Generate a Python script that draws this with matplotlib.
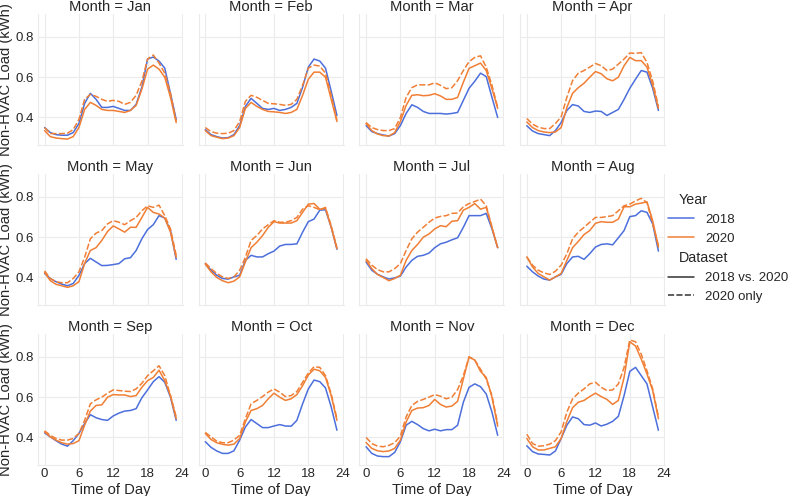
import numpy as np
import pandas as pd
import matplotlib
matplotlib.use("Agg")
import matplotlib.pyplot as plt
from matplotlib.offsetbox import HPacker, DrawingArea, TextArea
import seaborn as sns

months = ["Jan", "Feb", "Mar", "Apr", "May", "Jun",
          "Jul", "Aug", "Sep", "Oct", "Nov", "Dec"]
hours = list(range(24))
xticks = [0, 6, 12, 18, 24]
yticks = [0.4, 0.6, 0.8]

# 2018 (2018 vs. 2020 dataset)
load_2018 = {
    "Jan": [0.35, 0.325, 0.315, 0.312, 0.312, 0.325, 0.37, 0.47, 0.52, 0.49, 0.45, 0.45, 0.455, 0.445, 0.435, 0.435, 0.465, 0.55, 0.69, 0.70, 0.68, 0.645, 0.52, 0.39],
    "Feb": [0.34, 0.315, 0.305, 0.298, 0.30, 0.315, 0.36, 0.455, 0.495, 0.47, 0.445, 0.44, 0.445, 0.435, 0.44, 0.45, 0.47, 0.55, 0.65, 0.69, 0.68, 0.645, 0.53, 0.41],
    "Mar": [0.36, 0.33, 0.32, 0.313, 0.308, 0.32, 0.36, 0.42, 0.463, 0.45, 0.43, 0.42, 0.42, 0.42, 0.417, 0.42, 0.425, 0.485, 0.545, 0.58, 0.62, 0.603, 0.50, 0.40],
    "Apr": [0.359, 0.333, 0.32, 0.315, 0.31, 0.335, 0.375, 0.435, 0.464, 0.457, 0.43, 0.425, 0.432, 0.43, 0.41, 0.425, 0.44, 0.49, 0.545, 0.59, 0.633, 0.625, 0.545, 0.435],
    "May": [0.42, 0.395, 0.379, 0.367, 0.359, 0.37, 0.41, 0.469, 0.495, 0.477, 0.459, 0.46, 0.464, 0.469, 0.493, 0.498, 0.534, 0.592, 0.638, 0.662, 0.707, 0.695, 0.633, 0.49],
    "Jun": [0.469, 0.436, 0.411, 0.395, 0.392, 0.403, 0.411, 0.485, 0.51, 0.502, 0.502, 0.518, 0.531, 0.556, 0.564, 0.564, 0.567, 0.625, 0.677, 0.69, 0.734, 0.736, 0.649, 0.54],
    "Jul": [0.477, 0.436, 0.416, 0.403, 0.392, 0.398, 0.407, 0.452, 0.485, 0.505, 0.51, 0.521, 0.548, 0.567, 0.575, 0.587, 0.597, 0.649, 0.707, 0.707, 0.707, 0.718, 0.641, 0.548],
    "Aug": [0.456, 0.428, 0.407, 0.392, 0.387, 0.403, 0.416, 0.469, 0.502, 0.505, 0.49, 0.518, 0.551, 0.564, 0.567, 0.562, 0.597, 0.633, 0.702, 0.707, 0.731, 0.723, 0.666, 0.531],
    "Sep": [0.423, 0.403, 0.384, 0.367, 0.357, 0.384, 0.42, 0.469, 0.513, 0.498, 0.489, 0.485, 0.507, 0.521, 0.531, 0.534, 0.543, 0.597, 0.636, 0.677, 0.702, 0.674, 0.60, 0.485],
    "Oct": [0.379, 0.351, 0.333, 0.321, 0.321, 0.334, 0.387, 0.452, 0.489, 0.469, 0.449, 0.449, 0.457, 0.464, 0.457, 0.456, 0.485, 0.567, 0.641, 0.685, 0.677, 0.646, 0.551, 0.436],
    "Nov": [0.354, 0.321, 0.308, 0.305, 0.305, 0.326, 0.379, 0.461, 0.48, 0.464, 0.444, 0.433, 0.441, 0.433, 0.439, 0.439, 0.461, 0.575, 0.649, 0.666, 0.652, 0.616, 0.526, 0.411],
    "Dec": [0.359, 0.33, 0.318, 0.316, 0.313, 0.333, 0.395, 0.461, 0.502, 0.493, 0.464, 0.461, 0.472, 0.457, 0.466, 0.48, 0.505, 0.608, 0.728, 0.748, 0.707, 0.666, 0.551, 0.436],
}

# 2020 (2018 vs. 2020 dataset)
load_2020_pair = {
    "Jan": [0.335, 0.305, 0.298, 0.295, 0.293, 0.305, 0.35, 0.44, 0.475, 0.46, 0.44, 0.435, 0.435, 0.43, 0.425, 0.435, 0.46, 0.54, 0.64, 0.66, 0.64, 0.60, 0.50, 0.375],
    "Feb": [0.335, 0.31, 0.302, 0.295, 0.298, 0.31, 0.35, 0.445, 0.475, 0.455, 0.44, 0.43, 0.428, 0.425, 0.42, 0.425, 0.44, 0.51, 0.59, 0.625, 0.625, 0.60, 0.49, 0.38],
    "Mar": [0.37, 0.335, 0.318, 0.31, 0.308, 0.325, 0.38, 0.46, 0.51, 0.513, 0.508, 0.51, 0.518, 0.507, 0.49, 0.49, 0.50, 0.575, 0.644, 0.657, 0.67, 0.633, 0.543, 0.445],
    "Apr": [0.378, 0.35, 0.335, 0.328, 0.325, 0.328, 0.35, 0.45, 0.52, 0.548, 0.57, 0.60, 0.628, 0.617, 0.592, 0.582, 0.60, 0.657, 0.698, 0.682, 0.682, 0.65, 0.56, 0.445],
    "May": [0.425, 0.384, 0.366, 0.359, 0.351, 0.359, 0.379, 0.469, 0.534, 0.548, 0.584, 0.628, 0.656, 0.641, 0.625, 0.649, 0.649, 0.698, 0.748, 0.723, 0.715, 0.695, 0.625, 0.50],
    "Jun": [0.466, 0.428, 0.40, 0.384, 0.374, 0.382, 0.403, 0.477, 0.548, 0.575, 0.608, 0.649, 0.677, 0.67, 0.67, 0.67, 0.682, 0.723, 0.764, 0.767, 0.739, 0.743, 0.649, 0.543],
    "Jul": [0.485, 0.444, 0.415, 0.40, 0.384, 0.395, 0.411, 0.485, 0.534, 0.564, 0.60, 0.616, 0.641, 0.657, 0.652, 0.679, 0.682, 0.734, 0.748, 0.767, 0.739, 0.748, 0.649, 0.548],
    "Aug": [0.502, 0.452, 0.42, 0.403, 0.387, 0.403, 0.42, 0.485, 0.548, 0.579, 0.613, 0.633, 0.669, 0.677, 0.674, 0.674, 0.69, 0.751, 0.751, 0.764, 0.769, 0.775, 0.682, 0.551],
    "Sep": [0.428, 0.403, 0.387, 0.374, 0.367, 0.37, 0.384, 0.461, 0.531, 0.559, 0.562, 0.60, 0.613, 0.611, 0.611, 0.603, 0.608, 0.649, 0.682, 0.698, 0.734, 0.682, 0.608, 0.493],
    "Oct": [0.42, 0.39, 0.374, 0.366, 0.362, 0.367, 0.395, 0.477, 0.534, 0.543, 0.559, 0.592, 0.62, 0.60, 0.584, 0.592, 0.613, 0.657, 0.71, 0.739, 0.731, 0.698, 0.608, 0.485],
    "Nov": [0.375, 0.346, 0.334, 0.33, 0.333, 0.346, 0.387, 0.477, 0.534, 0.546, 0.548, 0.559, 0.589, 0.564, 0.551, 0.556, 0.58, 0.69, 0.80, 0.784, 0.728, 0.698, 0.60, 0.456],
    "Dec": [0.395, 0.354, 0.338, 0.338, 0.346, 0.354, 0.395, 0.48, 0.548, 0.575, 0.584, 0.603, 0.62, 0.603, 0.589, 0.564, 0.584, 0.698, 0.875, 0.854, 0.789, 0.715, 0.633, 0.493],
}

# 2020 (2020 only dataset)
load_2020_only = {
    "Jan": [0.35, 0.32, 0.32, 0.32, 0.322, 0.34, 0.39, 0.49, 0.515, 0.505, 0.49, 0.48, 0.485, 0.48, 0.465, 0.475, 0.51, 0.58, 0.69, 0.71, 0.67, 0.62, 0.52, 0.38],
    "Feb": [0.35, 0.33, 0.322, 0.32, 0.322, 0.335, 0.38, 0.48, 0.51, 0.50, 0.485, 0.47, 0.468, 0.465, 0.46, 0.465, 0.49, 0.56, 0.645, 0.66, 0.655, 0.62, 0.51, 0.385],
    "Mar": [0.375, 0.35, 0.34, 0.335, 0.335, 0.345, 0.40, 0.50, 0.548, 0.562, 0.562, 0.562, 0.572, 0.56, 0.543, 0.548, 0.583, 0.633, 0.677, 0.698, 0.706, 0.65, 0.56, 0.45],
    "Apr": [0.395, 0.367, 0.352, 0.345, 0.345, 0.37, 0.403, 0.50, 0.583, 0.62, 0.633, 0.65, 0.668, 0.657, 0.633, 0.64, 0.665, 0.69, 0.72, 0.718, 0.722, 0.673, 0.58, 0.455],
    "May": [0.433, 0.395, 0.379, 0.374, 0.374, 0.395, 0.428, 0.50, 0.592, 0.62, 0.633, 0.666, 0.682, 0.674, 0.662, 0.682, 0.698, 0.731, 0.756, 0.748, 0.759, 0.707, 0.641, 0.51],
    "Jun": [0.472, 0.444, 0.42, 0.403, 0.395, 0.403, 0.436, 0.50, 0.584, 0.608, 0.641, 0.662, 0.682, 0.674, 0.674, 0.682, 0.698, 0.739, 0.756, 0.748, 0.736, 0.748, 0.657, 0.548],
    "Jul": [0.493, 0.461, 0.439, 0.428, 0.428, 0.444, 0.469, 0.534, 0.592, 0.625, 0.649, 0.674, 0.695, 0.703, 0.707, 0.718, 0.72, 0.751, 0.767, 0.777, 0.789, 0.756, 0.649, 0.548],
    "Aug": [0.502, 0.461, 0.436, 0.423, 0.415, 0.431, 0.461, 0.518, 0.592, 0.625, 0.649, 0.674, 0.698, 0.698, 0.702, 0.707, 0.731, 0.756, 0.764, 0.78, 0.793, 0.772, 0.666, 0.559],
    "Sep": [0.433, 0.411, 0.395, 0.387, 0.387, 0.395, 0.42, 0.485, 0.567, 0.587, 0.60, 0.62, 0.636, 0.633, 0.63, 0.628, 0.641, 0.669, 0.707, 0.731, 0.756, 0.707, 0.608, 0.502],
    "Oct": [0.425, 0.403, 0.382, 0.374, 0.374, 0.387, 0.411, 0.493, 0.567, 0.584, 0.603, 0.625, 0.641, 0.625, 0.603, 0.608, 0.628, 0.674, 0.72, 0.751, 0.748, 0.707, 0.616, 0.493],
    "Nov": [0.40, 0.37, 0.357, 0.354, 0.361, 0.374, 0.407, 0.502, 0.559, 0.579, 0.589, 0.60, 0.613, 0.605, 0.592, 0.60, 0.638, 0.707, 0.80, 0.784, 0.739, 0.69, 0.608, 0.469],
    "Dec": [0.416, 0.37, 0.357, 0.359, 0.367, 0.384, 0.428, 0.526, 0.592, 0.62, 0.641, 0.666, 0.674, 0.649, 0.633, 0.636, 0.666, 0.748, 0.884, 0.875, 0.813, 0.731, 0.641, 0.502],
}

years = ["2018", "2020"]
datasets = ["2018 vs. 2020", "2020 only"]
year_colors = {"2018": "#4c6fdc", "2020": "#f07f35"}

rows = []
for series, year, ds in [(load_2018, "2018", datasets[0]),
                         (load_2020_pair, "2020", datasets[0]),
                         (load_2020_only, "2020", datasets[1])]:
    for m in months:
        for h, v in zip(hours, series[m]):
            rows.append({"Month": m, "Time of Day": h, "Non-HVAC Load (kWh)": v,
                         "Year": year, "Dataset": ds})
df = pd.DataFrame(rows)

sns.set_theme(style="whitegrid", rc={
    "axes.titlesize": 10.5,
    "axes.titlepad": 2.0,
    "axes.labelsize": 10.6,
    "axes.labelpad": 1.5,
    "xtick.labelsize": 9.5,
    "ytick.labelsize": 9.5,
    "xtick.major.size": 0,
    "ytick.major.size": 0,
    "xtick.major.pad": 2.5,
    "ytick.major.pad": 3.0,
    "legend.fontsize": 9.5,
    "legend.title_fontsize": 10.3,
    "grid.color": "#ebebeb",
    "axes.edgecolor": "#ebebeb",
    "grid.linewidth": 0.8,
})
plt.rcParams["font.family"] = ["Liberation Sans", "DejaVu Sans"]

g = sns.relplot(data=df, x="Time of Day", y="Non-HVAC Load (kWh)",
                col="Month", col_wrap=4, col_order=months,
                hue="Year", hue_order=years, palette=year_colors,
                style="Dataset", style_order=datasets,
                kind="line", errorbar=None, linewidth=1.1,
                height=1.6, aspect=1.1)
g.set(xticks=xticks, yticks=yticks)
g.figure.set_size_inches(7.9, 4.96)
g.figure.subplots_adjust(left=38/790, right=665/790, top=1-14/496, bottom=1-465/496,
                         wspace=16/145, hspace=29/131)
for ax in g.axes.flat:
    ax.tick_params(length=0)
    for s in ax.spines.values():
        s.set_linewidth(0.8)

# make the legend sub-titles look like titles
leg = g.legend
if leg is not None:
    for hp in leg.findobj(HPacker):
        ch = hp.get_children()
        if len(ch) == 2 and isinstance(ch[0], DrawingArea) and isinstance(ch[1], TextArea):
            txts = ch[1].get_children()
            if any(t.get_text() in ("Year", "Dataset") for t in txts if hasattr(t, "get_text")):
                ch[0].set_width(0)
                for t in txts:
                    t.set_size(10.3)
                for a in ch[0].get_children():
                    a.set_visible(False)
    leg.set_bbox_to_anchor((1 + 10/790, 0.5), transform=g.figure.transFigure)

g.figure.savefig("out.png", dpi=100)
